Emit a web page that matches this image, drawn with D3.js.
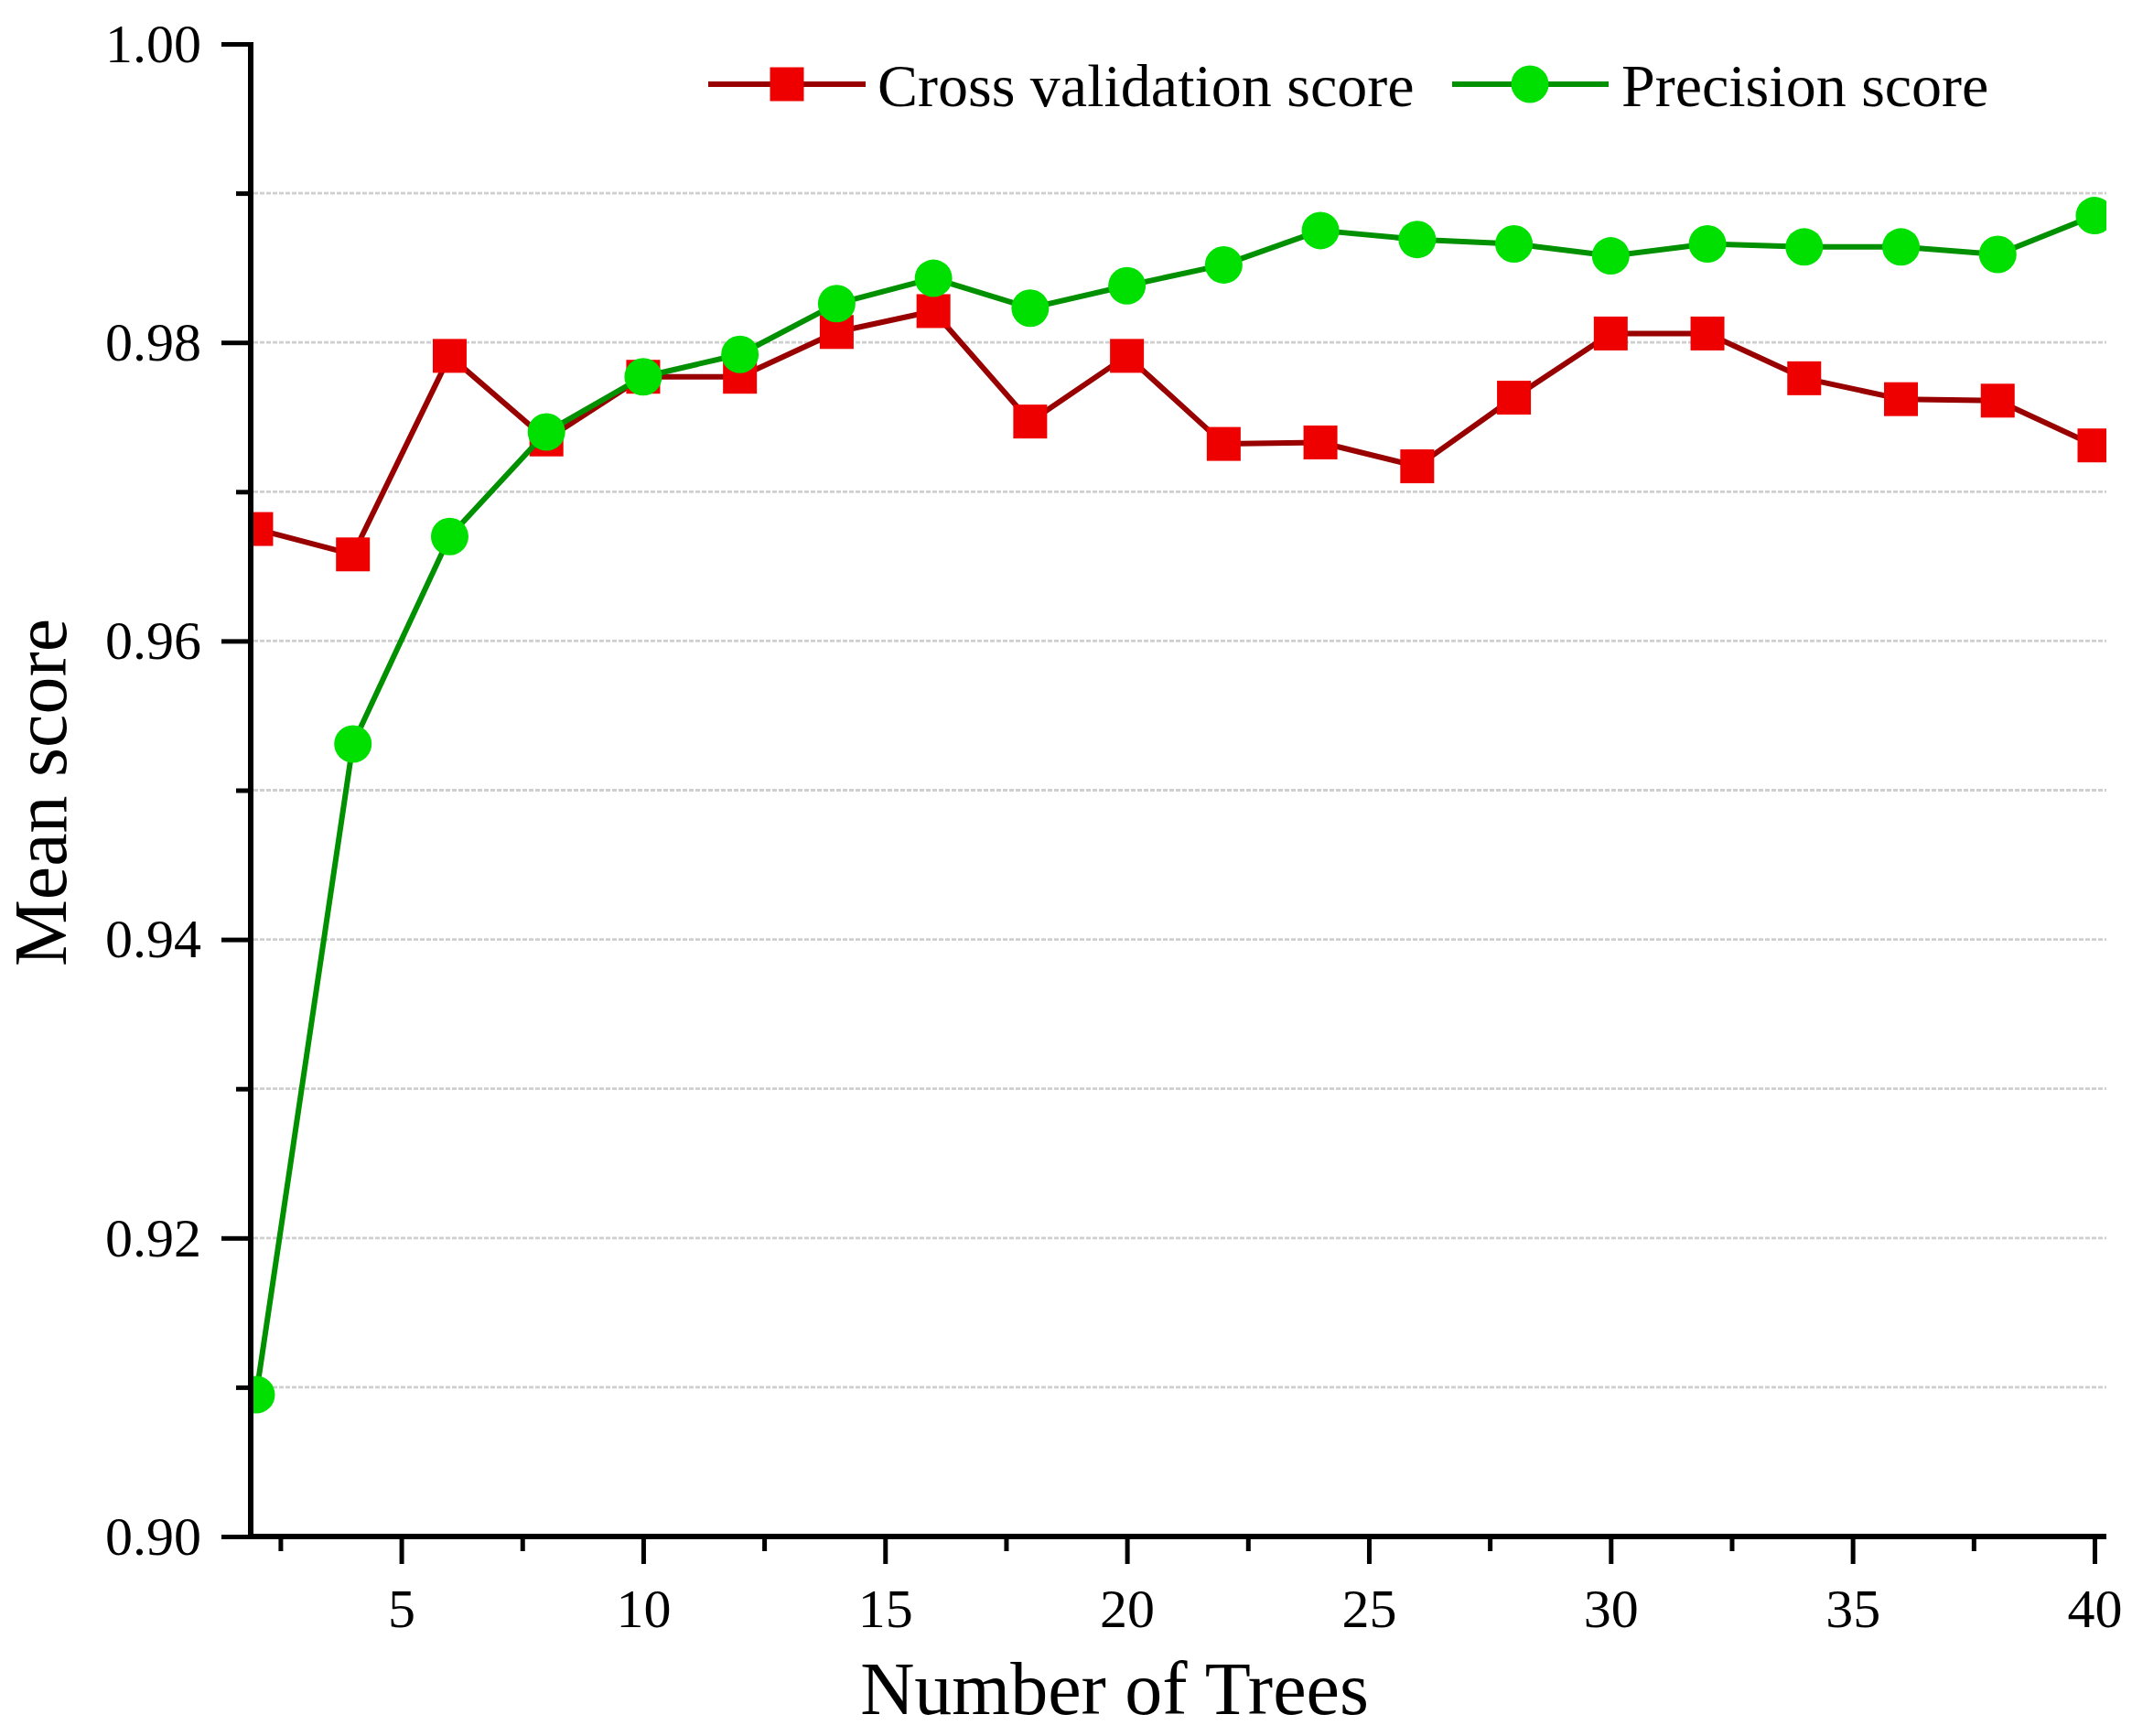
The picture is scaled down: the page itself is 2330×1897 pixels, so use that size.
<!DOCTYPE html>
<html>
<head>
<meta charset="utf-8">
<script src="https://cdn.jsdelivr.net/npm/d3@7"></script>
<style>
  html, body { margin: 0; padding: 0; background: #fff; }
  svg { display: block; }
  text { font-family: "Liberation Serif", "DejaVu Serif", serif; fill: #000; }
</style>
</head>
<body>
<svg id="chart" width="2330" height="1897"></svg>
<script>
// ---- data ----
const trees = [2, 4, 6, 8, 10, 12, 14, 16, 18, 20, 22, 24, 26, 28, 30, 32, 34, 36, 38, 40];
const crossValidation = [0.9675, 0.9658, 0.9791, 0.9735, 0.9777, 0.9777, 0.9807, 0.9821, 0.9747, 0.9791,
                         0.9732, 0.9733, 0.9717, 0.9763, 0.9806, 0.9806, 0.9776, 0.9762, 0.9761, 0.9731];
const precision = [0.9095, 0.9531, 0.9670, 0.9740, 0.9777, 0.9792, 0.9826, 0.9843, 0.9823, 0.9838,
                   0.9852, 0.9875, 0.9869, 0.9866, 0.9858, 0.9866, 0.9864, 0.9864, 0.9859, 0.9885];
const xMajorTicks = [5, 10, 15, 20, 25, 30, 35, 40];
const xMinorTicks = [2.5, 7.5, 12.5, 17.5, 22.5, 27.5, 32.5, 37.5];
const yMajorTicks = [0.90, 0.92, 0.94, 0.96, 0.98, 1.00];
const yMinorTicks = [0.91, 0.93, 0.95, 0.97, 0.99];
const gridValues = [0.91, 0.92, 0.93, 0.94, 0.95, 0.96, 0.97, 0.98, 0.99];
const seriesNames = ["Cross validation score", "Precision score"];

// ---- layout ----
const L = 274, R = 2302, T = 48, B = 1679;
const svg = d3.select("#chart");
const x = d3.scaleLinear().domain([1.887, 40.246]).range([L, R]);
const y = d3.scaleLinear().domain([0.90, 1.00]).range([B, T]);

svg.append("defs").append("clipPath").attr("id", "plotclip")
  .append("rect").attr("x", L).attr("y", T - 30).attr("width", R - L).attr("height", B - T + 30);

// grid
svg.append("g").selectAll("line").data(gridValues).join("line")
  .attr("x1", L + 3).attr("x2", R)
  .attr("y1", d => y(d)).attr("y2", d => y(d))
  .attr("stroke", "#cfcfcf").attr("stroke-width", 2.8)
  .attr("stroke-dasharray", "5,2");

// series
const plot = svg.append("g").attr("clip-path", "url(#plotclip)");
const line = d3.line().x((d, i) => x(trees[i])).y(d => y(d));

plot.append("path").datum(crossValidation).attr("d", line)
  .attr("fill", "none").attr("stroke", "#990000").attr("stroke-width", 6).attr("stroke-linejoin", "round");
const sq = 37;
plot.append("g").selectAll("rect").data(crossValidation).join("rect")
  .attr("x", (d, i) => x(trees[i]) - sq / 2).attr("y", d => y(d) - sq / 2)
  .attr("width", sq).attr("height", sq).attr("fill", "#ee0000");

plot.append("path").datum(precision).attr("d", line)
  .attr("fill", "none").attr("stroke", "#009000").attr("stroke-width", 6).attr("stroke-linejoin", "round");
plot.append("g").selectAll("circle").data(precision).join("circle")
  .attr("cx", (d, i) => x(trees[i])).attr("cy", d => y(d))
  .attr("r", 20.5).attr("fill", "#00e000");

// axes
const xAxisMajor = d3.axisBottom(x).tickValues(xMajorTicks).tickSize(30).tickPadding(26).tickFormat(d3.format("d"));
const xAxisMinor = d3.axisBottom(x).tickValues(xMinorTicks).tickSize(16).tickFormat("");
const yAxisMajor = d3.axisLeft(y).tickValues(yMajorTicks).tickSize(32).tickPadding(22).tickFormat(d3.format(".2f"));
const yAxisMinor = d3.axisLeft(y).tickValues(yMinorTicks).tickSize(16).tickFormat("");

function styleAxis(g) {
  g.select(".domain").remove();
  g.selectAll(".tick line").attr("stroke", "#000").attr("stroke-width", 5);
  g.selectAll(".tick text").attr("font-size", 60).attr("font-family", "Liberation Serif, serif").attr("fill", "#000");
}
svg.append("g").attr("transform", `translate(0,${B})`).call(xAxisMinor).call(styleAxis);
svg.append("g").attr("transform", `translate(0,${B})`).call(xAxisMajor).call(styleAxis);
svg.append("g").attr("transform", `translate(${L},0)`).call(yAxisMinor).call(styleAxis);
svg.append("g").attr("transform", `translate(${L},0)`).call(yAxisMajor).call(styleAxis)
  .selectAll(".tick text").attr("dy", "0.32em");

// axis lines
svg.append("line").attr("x1", L).attr("x2", L).attr("y1", T - 2).attr("y2", B + 3)
  .attr("stroke", "#000").attr("stroke-width", 6);
svg.append("line").attr("x1", L - 3).attr("x2", R).attr("y1", B).attr("y2", B)
  .attr("stroke", "#000").attr("stroke-width", 6);

// axis titles
svg.append("text").attr("x", 1218).attr("y", 1873).attr("text-anchor", "middle")
  .attr("font-size", 82).text("Number of Trees");
svg.append("text").attr("transform", "translate(72,866) rotate(-90)").attr("text-anchor", "middle")
  .attr("font-size", 82).text("Mean score");

// legend
const lg = svg.append("g");
const legendY = 92;
lg.append("line").attr("x1", 774).attr("x2", 946).attr("y1", legendY).attr("y2", legendY)
  .attr("stroke", "#990000").attr("stroke-width", 6);
lg.append("rect").attr("x", 860 - sq / 2).attr("y", legendY - sq / 2).attr("width", sq).attr("height", sq)
  .attr("fill", "#ee0000");
lg.append("text").attr("x", 959).attr("y", 116).attr("font-size", 66).text(seriesNames[0]);
lg.append("line").attr("x1", 1587).attr("x2", 1758).attr("y1", legendY).attr("y2", legendY)
  .attr("stroke", "#009000").attr("stroke-width", 6);
lg.append("circle").attr("cx", 1672).attr("cy", legendY).attr("r", 20.5).attr("fill", "#00e000");
lg.append("text").attr("x", 1772).attr("y", 116).attr("font-size", 66).text(seriesNames[1]);
</script>
</body>
</html>
